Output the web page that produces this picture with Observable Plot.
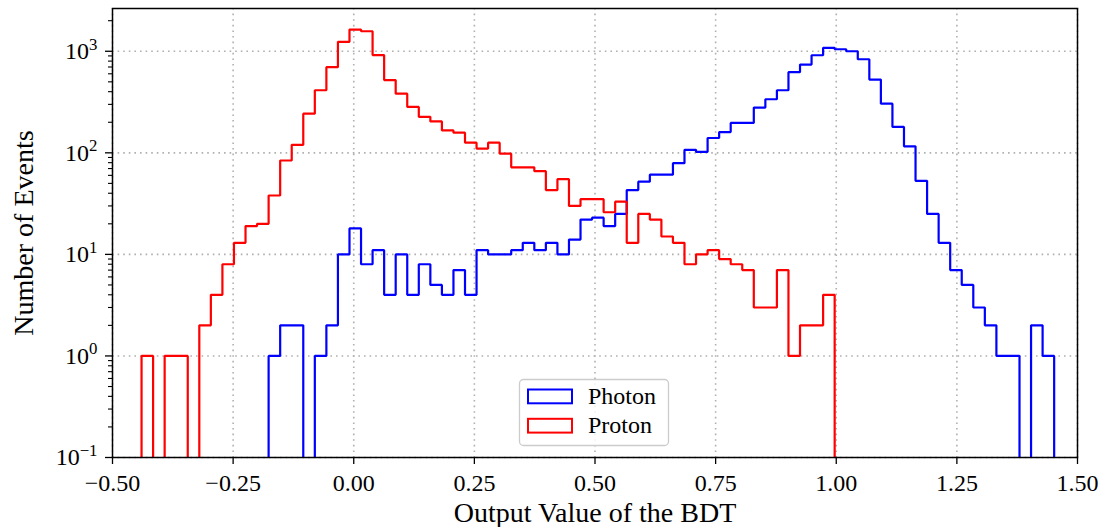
<!DOCTYPE html>
<html>
<head>
<meta charset="utf-8">
<script src="https://cdn.jsdelivr.net/npm/d3@7"></script>
<script src="https://cdn.jsdelivr.net/npm/@observablehq/plot@0.6"></script>
<style>
  body { margin: 0; background: #fff; }
</style>
</head>
<body>
<div id="chart"></div>
<script>
// Histogram binning shared by both samples (79 equal-width bins)
const binLo = -0.4398;
const binWidth = 0.023942;

// Events per bin of the BDT output
const photon = [
  0, 0, 0, 0, 0, 0, 0, 0, 0, 0,
  0, 1, 2, 2, 0, 1, 2, 10, 18, 8,
  11, 4, 10, 4, 8, 5, 4, 7, 4, 11,
  10, 10, 11, 13, 11, 13, 10, 14, 22, 23,
  19, 25, 43, 52, 61, 61, 79, 107, 102, 140,
  160, 197, 197, 279, 337, 413, 622, 739, 914, 1081,
  1047, 1000, 834, 526, 305, 180, 116, 53, 25, 13,
  7, 5, 3, 2, 1, 1, 0, 2, 1
];
const proton = [
  1, 0, 1, 1, 0, 2, 4, 8, 13, 19,
  20, 38, 84, 120, 243, 413, 697, 1240, 1637, 1575,
  918, 520, 382, 283, 226, 204, 166, 158, 126, 110,
  126, 98, 72, 72, 66, 43, 55, 30, 35, 35,
  26, 33, 13, 25, 22, 15, 13, 8, 10, 11,
  9, 8, 7, 3, 3, 7, 1, 2, 2, 4,
  0, 0, 0, 0, 0, 0, 0, 0, 0, 0,
  0, 0, 0, 0, 0, 0, 0, 0, 0
];

const seriesNames = ["Photon", "Proton"];
const seriesColors = ["#0000ff", "#ff0000"];

const xTicks = [-0.5, -0.25, 0, 0.25, 0.5, 0.75, 1, 1.25, 1.5];
const yTicks = [0.1, 1, 10, 100, 1000];
const yExponents = ["−1", "0", "1", "2", "3"];
const yMinor = [0.2, 0.3, 0.4, 0.5, 0.6, 0.7, 0.8, 0.9,
                2, 3, 4, 5, 6, 7, 8, 9,
                20, 30, 40, 50, 60, 70, 80, 90,
                200, 300, 400, 500, 600, 700, 800, 900, 2000];

const serif = "'Liberation Serif', 'DejaVu Serif', serif";

// Bin edges
const edges = d3.range(photon.length + 1).map(i => binLo + i * binWidth);

// Step outline of a histogram; empty bins fall below the frame and are clipped
const floorValue = 0.01;
function outline(counts) {
  const pts = [{x: edges[0], y: floorValue}];
  counts.forEach((c, i) => {
    const v = c > 0 ? c : floorValue;
    pts.push({x: edges[i], y: v}, {x: edges[i + 1], y: v});
  });
  pts.push({x: edges[counts.length], y: floorValue});
  return pts;
}

const gridStyle = {stroke: "#b0b0b0", strokeOpacity: 1, strokeWidth: 1.6, strokeDasharray: "1.6,4"};

const chart = Plot.plot({
  width: 1100,
  height: 527,
  marginLeft: 112,
  marginRight: 23,
  marginTop: 8,
  marginBottom: 70,
  style: {fontFamily: serif, fontSize: "24px", background: "#fff", color: "#000", overflow: "visible"},
  x: {domain: [-0.5, 1.5], label: null},
  y: {type: "log", domain: [0.1, 2637], label: null},
  marks: [
    Plot.gridX(xTicks, gridStyle),
    Plot.gridY(yTicks, gridStyle),
    Plot.line(outline(photon), {x: "x", y: "y", stroke: seriesColors[0], strokeWidth: 2.2, strokeLinejoin: "miter", clip: true}),
    Plot.line(outline(proton), {x: "x", y: "y", stroke: seriesColors[1], strokeWidth: 2.2, strokeLinejoin: "miter", clip: true}),
    Plot.frame({stroke: "#000", strokeWidth: 1.5}),
    Plot.axisX(xTicks, {
      tickSize: 7, tickPadding: 9, strokeWidth: 1.3, fontSize: 24, label: null,
      tickFormat: d => (d < 0 ? "−" : "") + Math.abs(d).toFixed(2)
    }),
    Plot.axisY(yTicks, {
      tickSize: 7, tickPadding: 8, strokeWidth: 1.3, fontSize: 24, label: null,
      tickFormat: d => yExponents[yTicks.indexOf(d)]
    }),
    Plot.axisY(yMinor, {tickSize: 4, strokeWidth: 1.1, label: null, tickFormat: () => ""}),
    Plot.text(["Output Value of the BDT"], {
      text: d => d, frameAnchor: "bottom", dy: 56, textAnchor: "middle", lineAnchor: "middle", fontSize: 28
    }),
    Plot.text(["Number of Events"], {
      text: d => d, frameAnchor: "left", dx: -88, rotate: -90, textAnchor: "middle", lineAnchor: "middle", fontSize: 28
    })
  ]
});

// Power-of-ten labels on the log axis
d3.select(chart).selectAll('g[aria-label="y-axis tick label"] text').each(function () {
  const t = d3.select(this);
  const e = t.text();
  if (!e) return;
  t.text("10");
  t.append("tspan").attr("dy", "-0.55em").attr("font-size", "0.7em").text(e);
});

// Legend box inside the plot area
const svg = d3.select(chart);
const lg = svg.append("g")
  .attr("font-family", serif).attr("font-size", 24).attr("text-anchor", "start");
lg.append("rect")
  .attr("x", 519.5).attr("y", 379.5).attr("width", 149).attr("height", 66).attr("rx", 4)
  .attr("fill", "#fff").attr("fill-opacity", 0.8)
  .attr("stroke", "#cccccc").attr("stroke-width", 1.3);
seriesNames.forEach((name, k) => {
  const y0 = 389.5 + k * 29.3;
  lg.append("rect")
    .attr("x", 528).attr("y", y0).attr("width", 44).attr("height", 13.8)
    .attr("fill", "none").attr("stroke", seriesColors[k]).attr("stroke-width", 2);
  lg.append("text")
    .attr("x", 588).attr("y", y0 + 14).attr("fill", "#000")
    .text(name);
});

document.getElementById("chart").appendChild(chart);
</script>
</body>
</html>
